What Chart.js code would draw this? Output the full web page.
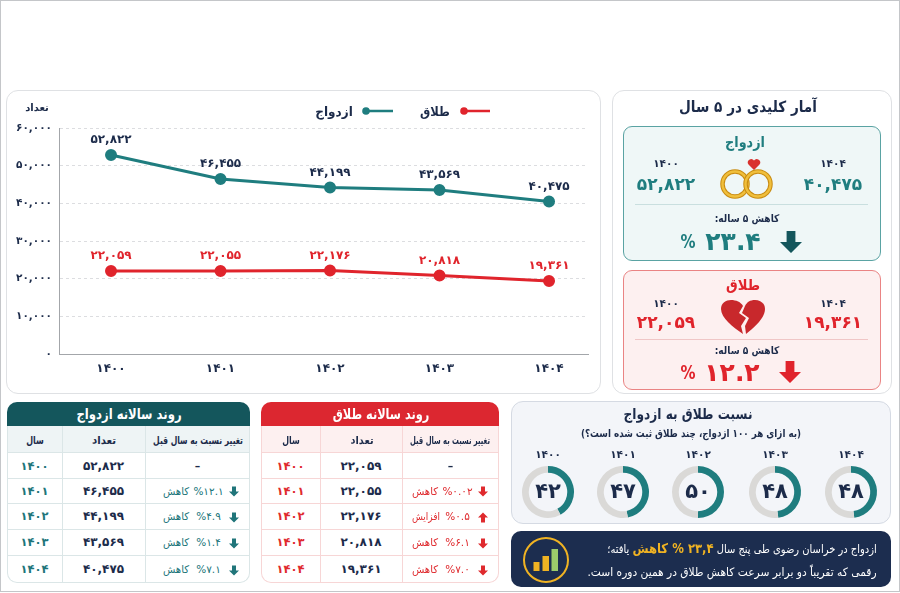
<!DOCTYPE html>
<html lang="fa"><head><meta charset="utf-8">
<script src="https://cdn.jsdelivr.net/npm/chart.js@4"></script>
<style>
html,body{margin:0;padding:0;background:#fff}
body{width:900px;height:593px;position:relative;overflow:hidden;font-family:'DejaVu Sans',sans-serif;color:#1c2b4a}
#frame{position:absolute;left:0;top:0;width:898px;height:590px;border:1px solid #c4c6c9}
.box{position:absolute;box-sizing:border-box}
.t{position:absolute;white-space:nowrap;transform:translate(-50%,-50%) scaleX(var(--sx,1));font-weight:bold;line-height:1;direction:rtl;z-index:3}
.panel{background:#fff;border:1px solid #dfe1e4;border-radius:12px}
svg{position:absolute;overflow:visible}
.cell{position:absolute;box-sizing:border-box;display:flex;align-items:center;justify-content:center;font-weight:bold;white-space:nowrap}
.pct{direction:ltr;unicode-bidi:bidi-override}
</style></head><body>
<div id="frame"></div>
<div class="box panel" style="left:6px;top:90px;width:595px;height:304px"></div>
<div class="box" style="left:6px;top:90px;width:594px;height:303px"><canvas id="lineChart" width="594" height="303"></canvas></div>
<div class="box panel" style="left:612px;top:90px;width:280px;height:304px"></div>
<div class="box" style="left:623px;top:126px;width:258px;height:135px;background:#eff7f7;border:1px solid #5aa3a3;border-radius:9px"></div>
<div class="box" style="left:623px;top:270px;width:258px;height:120px;background:#fdf0f0;border:1px solid #ea8484;border-radius:9px"></div>
<div class="box" style="left:635px;top:204px;width:233px;height:1px;background:#c9dfdf"></div>
<div class="box" style="left:635px;top:339px;width:233px;height:1px;background:#f0c6c6"></div>
<div class="box" style="left:511px;top:401px;width:380px;height:123px;background:#f3f5f9;border:1px solid #d5dae3;border-radius:12px"></div>
<div class="box" style="left:511px;top:531px;width:380px;height:56px;background:#1c2d4f;border-radius:10px"></div>
<svg style="left:0;top:0" width="900" height="593" viewBox="0 0 900 593">
  <circle cx="735" cy="184" r="12.5" fill="none" stroke="#c98c12" stroke-width="4.5"/>
  <circle cx="735" cy="184" r="12.5" fill="none" stroke="#f0bf3c" stroke-width="2.4"/>
  <circle cx="758" cy="184" r="12.5" fill="none" stroke="#c98c12" stroke-width="4.5"/>
  <circle cx="758" cy="184" r="12.5" fill="none" stroke="#f0bf3c" stroke-width="2.4"/>
  <path d="M754 170 l-5.5-5.5 a3.2 3.2 0 0 1 5.5-4 a3.2 3.2 0 0 1 5.5 4z" fill="#d9322e"/>
  <path d="M743 334 C733 327 721 318 721 309 C721 303 726 300 731 300 C736 300 741 302 743 306 L739 313 L746 318 L741 326 z" fill="#c8282c"/>
  <path d="M746 334 C755 327 765 318 765 309 C765 303 760 300 755 300 C750 300 747 302 745 306 L742 313 L749 318 L745 326 z" fill="#c8282c"/>
  <circle cx="546" cy="560" r="22" fill="none" stroke="#f0b323" stroke-width="2"/>
  <rect x="533.5" y="562" width="6" height="9" fill="#f0b323"/>
  <rect x="542.5" y="556" width="6.5" height="15" fill="#f0b323"/>
  <rect x="551.5" y="549" width="6.5" height="22" fill="#9ccb6b"/>
</svg>
<div id="overlay"></div>
<script>
const years = [1400, 1401, 1402, 1403, 1404];
const marriages = [52822, 46455, 44199, 43569, 40475];
const divorces = [22059, 22055, 22176, 20818, 19361];
const marriageChange = [null, '۱۲.۱', '۴.۹', '۱.۴', '۷.۱'];
const marriageWord = ['', 'کاهش', 'کاهش', 'کاهش', 'کاهش'];
const marriageDir = ['', 'down', 'down', 'down', 'down'];
const divorceChange = [null, '۰.۰۲', '۰.۵', '۶.۱', '۷.۰'];
const divorceWord = ['', 'کاهش', 'افزایش', 'کاهش', 'کاهش'];
const divorceDir = ['', 'down', 'up', 'down', 'down'];
const ratios = [42, 47, 50, 48, 48];
const yTicks = [0, 10000, 20000, 30000, 40000, 50000, 60000];

const TEAL = '#1f7d7f', RED = '#e0242c', NAVY = '#1c2b4a', DTEAL = '#14565c';
const FONT = "'DejaVu Sans', sans-serif";
const fa = v => String(v).replace(/\d/g, d => '۰۱۲۳۴۵۶۷۸۹'[d]);
const faN = v => fa(Number(v).toLocaleString('en-US'));
const ov = document.getElementById('overlay');

function text(s, x, y, size, color, extra, W) {
  const e = document.createElement('div');
  e.className = 't'; e.innerHTML = s;
  e.style.cssText = `left:${x}px;top:${y}px;font-size:${size}px;color:${color};${extra || ''}`;
  ov.appendChild(e);
  if (W) e.style.setProperty('--sx', W / e.offsetWidth);
  return e;
}
function arrow(x, y, w, h, color, dir) {
  const s = document.createElementNS('http://www.w3.org/2000/svg', 'svg');
  s.setAttribute('width', w); s.setAttribute('height', h); s.setAttribute('viewBox', '0 0 10 10');
  s.style.left = (x - w / 2) + 'px'; s.style.top = (y - h / 2) + 'px'; s.style.zIndex = 3;
  s.innerHTML = `<path d="${dir === 'up' ? 'M5 0 L10 5 L7 5 L7 10 L3 10 L3 5 L0 5z' : 'M3 0 L7 0 L7 5 L10 5 L5 10 L0 5 L3 5z'}" fill="${color}"/>`;
  ov.appendChild(s);
}

const lineLabels = {
  id: 'lineLabels',
  afterDatasetsDraw(c) {
    const g = c.ctx; g.save();
    g.font = 'bold 12px ' + FONT; g.textAlign = 'center'; g.textBaseline = 'middle';
    c.data.datasets.forEach((ds, i) => {
      g.fillStyle = i === 0 ? NAVY : RED;
      c.getDatasetMeta(i).data.forEach((p, k) => g.fillText(faN(ds.data[k].y), p.x, p.y - 15));
    });
    g.restore();
  }
};
new Chart(document.getElementById('lineChart'), {
  type: 'line',
  data: { datasets: [
    { label: 'ازدواج', data: years.map((y, i) => ({ x: y, y: marriages[i] })), borderColor: TEAL, backgroundColor: TEAL, borderWidth: 3, pointRadius: 4.5, pointHoverRadius: 4.5, tension: 0 },
    { label: 'طلاق', data: years.map((y, i) => ({ x: y, y: divorces[i] })), borderColor: RED, backgroundColor: RED, borderWidth: 3, pointRadius: 4.5, pointHoverRadius: 4.5, tension: 0 }
  ] },
  options: {
    responsive: false, animation: false,
    layout: { padding: { left: 0, right: 12, top: 38, bottom: 0 } },
    plugins: { legend: { display: false }, tooltip: { enabled: false } },
    scales: {
      x: { type: 'linear', min: 1399.525, max: 1404.356,
        afterBuildTicks: a => { a.ticks = years.map(v => ({ value: v })); },
        afterFit: a => { a.height = 39; },
        grid: { display: false, drawTicks: false },
        border: { display: true, color: '#a3a6aa', width: 1 },
        ticks: { autoSkip: false, maxRotation: 0, padding: 8, color: NAVY, font: { family: FONT, weight: 'bold', size: 12 }, callback: v => fa(v) } },
      y: { min: 0, max: 60000,
        afterBuildTicks: a => { a.ticks = yTicks.map(v => ({ value: v })); },
        afterFit: a => { a.width = 53; },
        grid: { color: '#dcdde0', drawTicks: false, tickLength: 0 },
        border: { display: true, color: '#a3a6aa', width: 1, dash: [3, 3] },
        ticks: { padding: 7, color: NAVY, font: { family: FONT, weight: 'bold', size: 10.5 }, callback: v => faN(v) } }
    }
  },
  plugins: [lineLabels]
});

text('تعداد', 37, 108, 10, NAVY);
text('ازدواج', 334, 111, 13, NAVY, '', 38);
text('طلاق', 435, 111, 13, NAVY, '', 30);
const lg = document.createElementNS('http://www.w3.org/2000/svg', 'svg');
lg.setAttribute('width', 900); lg.setAttribute('height', 593); lg.style.left = 0; lg.style.top = 0;
lg.innerHTML = `<line x1="366" y1="111" x2="393" y2="111" stroke="${TEAL}" stroke-width="2.5"/><circle cx="366" cy="111" r="3.8" fill="${TEAL}"/>
<line x1="464" y1="111" x2="490" y2="111" stroke="${RED}" stroke-width="2.5"/><circle cx="464" cy="111" r="3.8" fill="${RED}"/>`;
ov.appendChild(lg);

text('آمار کلیدی در ۵ سال', 748, 108, 15.5, NAVY, '', 138);
text('ازدواج', 745, 142, 15, TEAL, '', 40);
text(fa(1404), 833, 163, 10.5, NAVY); text(fa(1400), 666, 163, 10.5, NAVY);
text(faN(marriages[4]), 833, 184, 17, TEAL); text(faN(marriages[0]), 666, 184, 17, TEAL);
text('کاهش ۵ ساله:', 747, 218, 10.5, NAVY, '', 65);
text('%', 688, 241, 19, TEAL, '', 15); text('۲۳.۴', 733, 241, 25, TEAL);
arrow(791, 242, 22, 24, DTEAL, 'down');
text('طلاق', 743, 285, 15, RED, '', 34);
text(fa(1404), 833, 303, 10.5, NAVY); text(fa(1400), 666, 303, 10.5, NAVY);
text(faN(divorces[4]), 833, 322, 17, RED); text(faN(divorces[0]), 666, 322, 17, RED);
text('کاهش ۵ ساله:', 747, 350, 10.5, NAVY, '', 65);
text('%', 688, 372, 19, RED, '', 15); text('۱۲.۲', 732, 372, 25, RED);
arrow(790, 372, 22, 22, RED, 'down');

function table(cfg) {
  const { left, width, cols, title, titleX, titleW, heads, head, accent, tint, line, vals, change, word, dir } = cfg;
  const rows = [453, 478, 503, 529, 555, 583];
  const add = (x, y, w, h, html, css) => {
    const e = document.createElement('div'); e.className = 'cell'; e.innerHTML = html;
    e.style.cssText = `left:${x}px;top:${y}px;width:${w}px;height:${h}px;${css}`;
    ov.appendChild(e); return e;
  };
  add(left, 402, width, 24, '', `background:${head};border-radius:10px 10px 0 0`);
  add(left, 426, width, 157, '', `background:#fff;border:1px solid ${line};border-top:none;border-radius:0 0 10px 10px`);
  add(left + 1, 426, width - 2, 27, '', `background:${tint};border-bottom:1px solid ${line}`);
  [cols[1], cols[2]].forEach(c => add(c, 426, 1, 157, '', `background:${line}`));
  text(title, titleX, 414, 14.5, '#fff', '', titleW);
  heads.forEach(h => text(h.s, h.x, 440, h.size, NAVY, '', h.w));
  years.forEach((y, i) => {
    const t = rows[i], h = rows[i + 1] - rows[i];
    if (i) add(left + 1, t, width - 2, 1, '', `background:${line}`);
    add(left, t, cols[1] - left, h, fa(y), `font-size:11.5px;color:${accent}`);
    add(cols[1], t, cols[2] - cols[1], h, faN(vals[i]), `font-size:12px;color:${NAVY}`);
    const cx = cols[2] + (left + width - cols[2]) / 2;
    if (change[i] === null) {
      text('–', cx, t + h / 2, 11, NAVY);
    } else {
      const right = left + width;
      arrow(right - 16, t + h / 2 + 1, 10, 11, accent, dir[i]);
      text('<span class="pct">%' + change[i] + '</span>', right - 41.5, t + h / 2, 10.5, accent, 'font-weight:normal');
      text(word[i], right - (word[i] === 'کاهش' ? 74 : 73), t + h / 2, 10.5, accent, 'font-weight:normal', word[i] === 'کاهش' ? 26 : 28);
    }
  });
}
table({ left: 7, width: 243, cols: [7, 62, 145], title: 'روند سالانه ازدواج', titleX: 129, titleW: 105, head: DTEAL, accent: '#20757a', tint: '#eef4f5', line: '#dbe6e7',
  heads: [{ s: 'سال', x: 35, w: 18, size: 11 }, { s: 'تعداد', x: 104, w: 24, size: 11 }, { s: 'تغییر نسبت به سال قبل', x: 198, w: 90, size: 11 }],
  vals: marriages, change: marriageChange, word: marriageWord, dir: marriageDir });
table({ left: 261, width: 238, cols: [261, 320, 402], title: 'روند سالانه طلاق', titleX: 380.5, titleW: 97, head: '#dc2730', accent: '#df2a2e', tint: '#fdf0f0', line: '#f7d6d6',
  heads: [{ s: 'سال', x: 291, w: 18, size: 11 }, { s: 'تعداد', x: 362, w: 23, size: 11 }, { s: 'تغییر نسبت به سال قبل', x: 450, w: 80, size: 10.5 }],
  vals: divorces, change: divorceChange, word: divorceWord, dir: divorceDir });

text('نسبت طلاق به ازدواج', 688, 414, 15, NAVY, '', 129);
text('(به ازای هر ۱۰۰ ازدواج، چند طلاق ثبت شده است؟)', 691, 433, 11, NAVY, '', 220);
const ringX = [548, 623, 698, 775, 851];
const centre = {
  id: 'centre',
  afterDraw(c) {
    const g = c.ctx, a = c.getDatasetMeta(0).data[0]; g.save();
    g.font = 'bold 21px ' + FONT; g.fillStyle = NAVY; g.textAlign = 'center'; g.textBaseline = 'middle';
    g.fillText(fa(c.data.datasets[0].data[0]), a.x, a.y + 1); g.restore();
  }
};
ratios.forEach((r, i) => {
  text(fa(years[i]), ringX[i], 454, 10.5, NAVY);
  const w = document.createElement('div'); w.className = 'box';
  w.style.cssText = `left:${ringX[i] - 28}px;top:464px;width:56px;height:56px`;
  const cv = document.createElement('canvas'); cv.width = 56; cv.height = 56; w.appendChild(cv); ov.appendChild(w);
  new Chart(cv, { type: 'doughnut',
    data: { labels: ['طلاق', 'باقی'], datasets: [{ data: [r, 100 - r], backgroundColor: [TEAL, '#dad9d7'], borderWidth: 0 }] },
    options: { responsive: false, animation: false, cutout: '74%', layout: { padding: 2 }, plugins: { legend: { display: false }, tooltip: { enabled: false } } },
    plugins: [centre] });
});

const G = 'color:#f0b323;font-size:13.5px;font-weight:bold;';
text('ازدواج در خراسان رضوی طی پنج سال <span style="' + G + '">۲۳,۴ % کاهش</span> یافته؛', 741.5, 549, 11.5, '#fff', 'font-weight:normal', 269);
text('رقمی که تقریباً دو برابر سرعت کاهش طلاق در همین دوره است.', 731.5, 573, 11.5, '#fff', 'font-weight:normal', 289);
</script>
</body></html>
